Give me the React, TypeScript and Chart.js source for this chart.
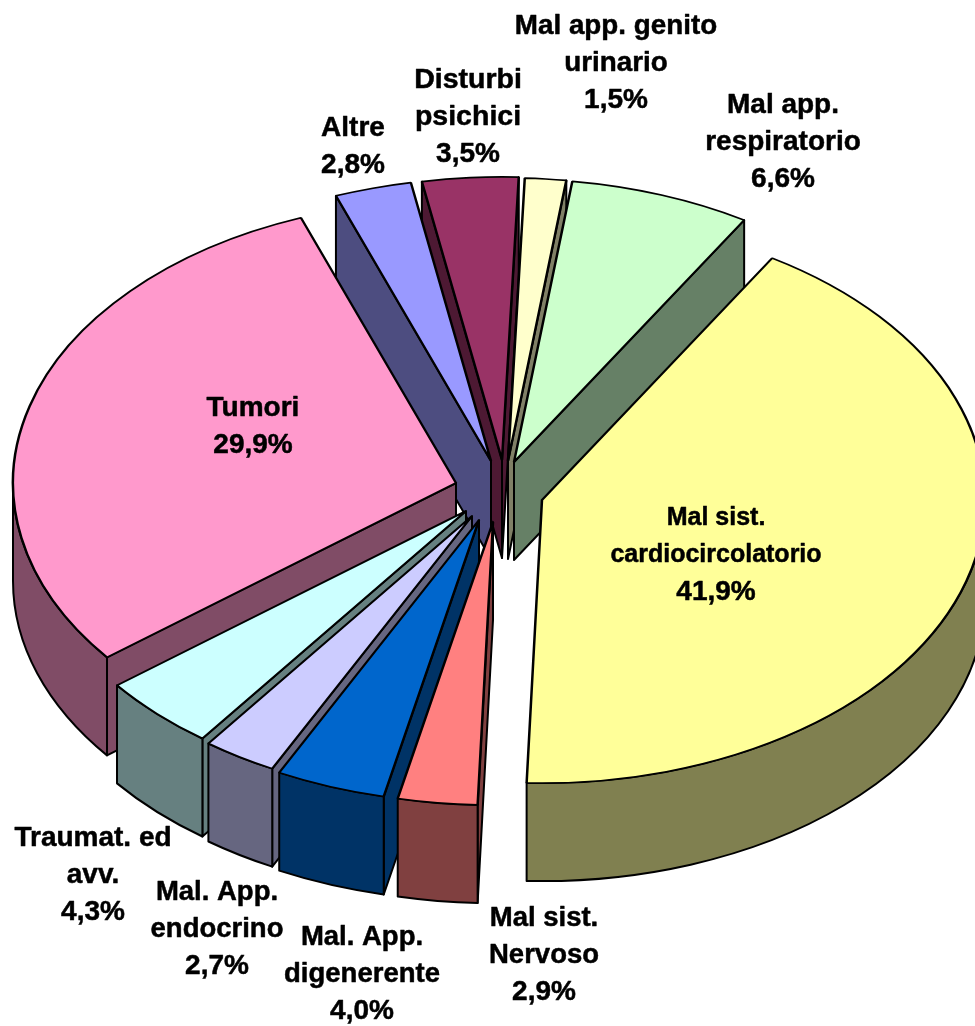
import React, { useEffect, useRef } from "react";
import { Chart, registerables } from "chart.js";

Chart.register(...registerables);

const categories = [
  ["Mal sist.", "cardiocircolatorio"],
  ["Mal sist.", "Nervoso"],
  ["Mal. App.", "digenerente"],
  ["Mal. App.", "endocrino"],
  ["Traumat. ed", "avv."],
  ["Tumori"],
  ["Altre"],
  ["Disturbi", "psichici"],
  ["Mal app. genito", "urinario"],
  ["Mal app.", "respiratorio"],
];
const values = [41.9, 2.9, 4.0, 2.7, 4.3, 29.9, 2.8, 3.5, 1.5, 6.6];
const topColors = ["#FFFF99", "#FF8080", "#0066CC", "#CCCCFF", "#CCFFFF", "#FF99CC", "#9999FF", "#993366", "#FFFFCC", "#CCFFCC"];
const sideColors = ["#808050", "#804040", "#003366", "#666680", "#668080", "#804C66", "#4D4D80", "#4D1933", "#808066", "#668066"];

// explosion of each slice from the pie centre, in screen pixels
const explodeX = [44, -5, -19, -26, -32, -42, -7, 4, 10, 16];
const explodeY = [9, 31, 29, 25, 20, -8, -30, -31, -30, -29];
// label anchor (centre x, y of first line) and font size of the name lines
const labelX = [716, 544, 362, 217, 93, 253, 353, 468, 616, 783];
const labelY = [518, 918, 937, 892, 838, 408, 128, 80, 26, 105];
const labelSize = [25, 27.5, 27.5, 27.5, 28, 28, 28, 28.5, 27.8, 28];
const percentSize = 28;

const CX = 498;
const CY = 491;
const RADIUS = 443;
const SQUASH = 0.639;
const DEPTH = 98;
const LINE = 37.3;
const FAMILY = '"Liberation Sans", Arial, sans-serif';

const pie3d = {
  id: "pie3d",
  afterDatasetsUpdate(chart: any) {
    chart.getDatasetMeta(0).data.forEach((arc: any, i: number) => {
      arc.x = CX + explodeX[i];
      arc.y = (CY + explodeY[i]) / SQUASH;
    });
  },
  beforeDatasetsDraw(chart: any) {
    const ctx = chart.ctx;
    const arcs = chart.getDatasetMeta(0).data.map((arc: any, i: number) => ({ arc, i }));
    arcs.sort((a: any, b: any) => {
      const ya = a.arc.y * SQUASH + Math.sin((a.arc.startAngle + a.arc.endAngle) / 2) * RADIUS * SQUASH;
      const yb = b.arc.y * SQUASH + Math.sin((b.arc.startAngle + b.arc.endAngle) / 2) * RADIUS * SQUASH;
      return ya - yb;
    });
    ctx.save();
    ctx.lineWidth = 2;
    ctx.strokeStyle = "#000";
    ctx.lineJoin = "round";
    for (const { arc, i } of arcs) {
      const x = arc.x;
      const y = arc.y * SQUASH;
      const R = arc.outerRadius;
      const a1 = arc.startAngle;
      const a2 = arc.endAngle;
      ctx.fillStyle = sideColors[i];
      const radial = (a: number) => {
        const px = x + R * Math.cos(a);
        const py = y + R * SQUASH * Math.sin(a);
        ctx.beginPath();
        ctx.moveTo(x, y);
        ctx.lineTo(px, py);
        ctx.lineTo(px, py + DEPTH);
        ctx.lineTo(x, y + DEPTH);
        ctx.closePath();
        ctx.fill();
        ctx.stroke();
      };
      if (Math.cos(a1) < 0) radial(a1);
      if (Math.cos(a2) > 0) radial(a2);
      for (const turn of [-2, 0, 2]) {
        const lo = Math.max(a1, turn * Math.PI);
        const hi = Math.min(a2, (turn + 1) * Math.PI);
        if (hi > lo) {
          ctx.beginPath();
          ctx.ellipse(x, y, R, R * SQUASH, 0, lo, hi);
          ctx.ellipse(x, y + DEPTH, R, R * SQUASH, 0, hi, lo, true);
          ctx.closePath();
          ctx.fill();
          ctx.stroke();
        }
      }
    }
    ctx.restore();
    ctx.save();
    ctx.transform(1, 0, 0, SQUASH, 0, 0);
  },
  afterDatasetsDraw(chart: any) {
    chart.ctx.restore();
  },
  afterDraw(chart: any) {
    const ctx = chart.ctx;
    ctx.save();
    ctx.fillStyle = "#000";
    ctx.strokeStyle = "#000";
    ctx.lineWidth = 0.5;
    ctx.lineJoin = "round";
    ctx.textAlign = "center";
    ctx.textBaseline = "middle";
    categories.forEach((lines, i) => {
      const text = [...lines, values[i].toFixed(1).replace(".", ",") + "%"];
      text.forEach((t, j) => {
        const size = j === lines.length ? percentSize : labelSize[i];
        ctx.font = `bold ${size}px ${FAMILY}`;
        const y = labelY[i] + j * LINE;
        ctx.fillText(t, labelX[i], y);
        ctx.strokeText(t, labelX[i], y);
      });
    });
    ctx.restore();
  },
};

export default function App() {
  const ref = useRef<HTMLCanvasElement>(null);
  useEffect(() => {
    const chart = new Chart(ref.current!, {
      type: "pie",
      data: {
        labels: categories.map((c) => c.join(" ")),
        datasets: [
          {
            data: values,
            backgroundColor: topColors,
            borderColor: "#000",
            borderWidth: 2.5,
            clip: false,
          } as any,
        ],
      },
      options: {
        responsive: false,
        animation: false,
        rotation: 31.3,
        radius: RADIUS,
        layout: { padding: 0 },
        plugins: { legend: { display: false }, tooltip: { enabled: false } },
      } as any,
      plugins: [pie3d],
    });
    return () => chart.destroy();
  }, []);
  return (
    <canvas
      ref={ref}
      width={975}
      height={1026}
      style={{ position: "absolute", left: 0, top: 0, width: 975, height: 1026, display: "block" }}
    />
  );
}
